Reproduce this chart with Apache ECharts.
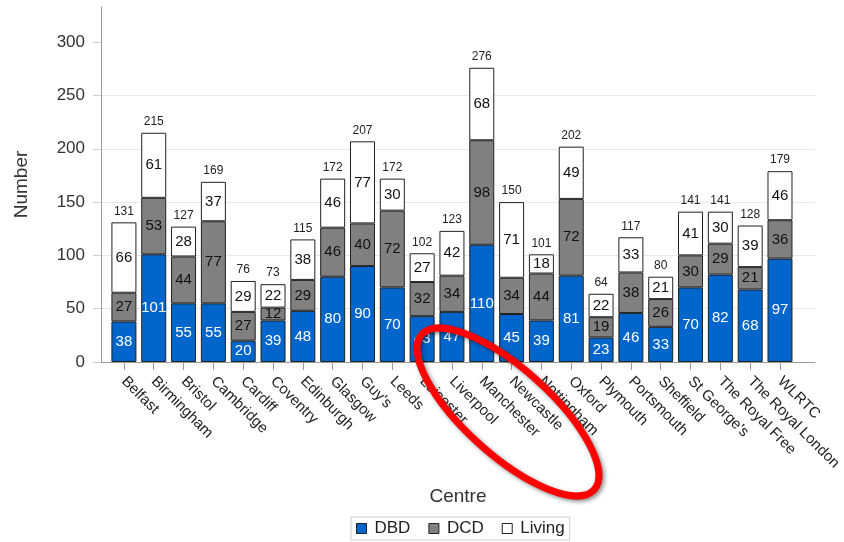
<!DOCTYPE html>
<html>
<head>
<meta charset="utf-8">
<script src="https://cdn.jsdelivr.net/npm/echarts@6/dist/echarts.min.js"></script>
<style>html,body{margin:0;padding:0;background:#fff}#c{width:844px;height:542px}</style>
</head>
<body>
<div id="c"></div>
<script>
const categories = ['Belfast','Birmingham','Bristol','Cambridge','Cardiff','Coventry','Edinburgh','Glasgow',"Guy's",'Leeds','Leicester','Liverpool','Manchester','Newcastle','Nottingham','Oxford','Plymouth','Portsmouth','Sheffield',"St George's",'The Royal Free','The Royal London','WLRTC'];
const dbd    = [38,101,55,55,20,39,48,80,90,70,43,47,110,45,39,81,23,46,33,70,82,68,97];
const dcd    = [27,53,44,77,27,12,29,46,40,72,32,34,98,34,44,72,19,38,26,30,29,21,36];
const living = [66,61,28,37,29,22,38,46,77,30,27,42,68,71,18,49,22,33,21,41,30,39,46];
const totals = [131,215,127,169,76,73,115,172,207,172,102,123,276,150,101,202,64,117,80,141,141,128,179];
const yTicks = [0,50,100,150,200,250,300];
const seriesNames = ['DBD','DCD','Living'];

const chart = echarts.init(document.getElementById('c'), null, {renderer:'canvas'});
const FONT = "'Liberation Sans', Arial, sans-serif";
const border = {borderColor:'#222', borderWidth:1};
const gridTop = 7, gridBottom = 180, yMax = 333;

chart.setOption({
  animation:false,
  textStyle:{fontFamily:FONT},
  grid:[
    {left:101, right:29, top:gridTop, bottom:gridBottom},
    {left:109, right:35, top:gridTop, bottom:gridBottom}
  ],
  xAxis:[
    {gridIndex:0, type:'value', min:0, max:1, splitLine:{show:false}, axisTick:{show:false}, axisLabel:{show:false},
     axisLine:{show:true, lineStyle:{color:'#9a9a9a'}},
     name:'Centre', nameLocation:'middle', nameGap:125, nameTextStyle:{fontSize:19, color:'#333', fontFamily:FONT}},
    {gridIndex:1, type:'category', data:categories, axisLine:{show:false},
     axisTick:{show:true, alignWithLabel:true, length:8, lineStyle:{color:'#9a9a9a'}},
     axisLabel:{rotate:-45, fontSize:15, color:'#222', margin:17, interval:0, fontFamily:FONT}}
  ],
  yAxis:[
    {gridIndex:0, type:'value', min:0, max:yMax, interval:50,
     axisLine:{show:true, lineStyle:{color:'#9a9a9a'}},
     axisTick:{show:true, length:8, customValues:yTicks, lineStyle:{color:'#cfcfcf'}},
     axisLabel:{customValues:yTicks, fontSize:17, color:'#333', margin:16, fontFamily:FONT},
     splitLine:{show:true, showMaxLine:false, lineStyle:{color:'#e8e8e8'}},
     name:'Number', nameLocation:'middle', nameGap:70, nameTextStyle:{fontSize:19, color:'#333', fontFamily:FONT}},
    {gridIndex:1, type:'value', min:0, max:yMax, show:false}
  ],
  legend:{
    data:seriesNames, bottom:2, left:351,
    itemWidth:10, itemHeight:10, itemGap:18, icon:'rect',
    borderColor:'#cccccc', borderWidth:1, padding:[3,5],
    itemStyle:{borderColor:'#222', borderWidth:1},
    textStyle:{fontSize:17, color:'#222', fontFamily:FONT, padding:[0,0,0,3]}
  },
  series:[
    {name:'DBD', type:'bar', stack:'s', xAxisIndex:1, yAxisIndex:1, barWidth:25, data:dbd,
     itemStyle:Object.assign({color:'#0066CC'}, border),
     label:{show:true, position:'inside', color:'#ffffff', fontSize:15, fontFamily:FONT}},
    {name:'DCD', type:'bar', stack:'s', xAxisIndex:1, yAxisIndex:1, barWidth:25, data:dcd,
     itemStyle:Object.assign({color:'#808080'}, border),
     label:{show:true, position:'inside', color:'#111', fontSize:15, fontFamily:FONT}},
    {name:'Living', type:'bar', stack:'s', xAxisIndex:1, yAxisIndex:1, barWidth:25, data:living,
     itemStyle:Object.assign({color:'#ffffff'}, border),
     label:{show:true, position:'inside', color:'#111', fontSize:15, fontFamily:FONT}},
    {name:'Total', type:'bar', stack:'s', xAxisIndex:1, yAxisIndex:1, barWidth:25,
     data:totals.map(function(){return 0;}),
     itemStyle:{color:'rgba(0,0,0,0)', borderWidth:0},
     label:{show:true, position:'top', distance:5, color:'#222', fontSize:12, fontFamily:FONT,
       formatter:function(p){return String(totals[p.dataIndex]);}}}
  ],
  graphic:[
    {type:'ellipse', x:508, y:412, rotation:-0.733, z:100,
     shape:{cx:0, cy:0, rx:116, ry:43},
     style:{fill:'none', stroke:'#ff0000', lineWidth:7, shadowBlur:4, shadowColor:'rgba(0,0,0,0.45)', shadowOffsetX:2, shadowOffsetY:2}}
  ]
});
</script>
</body>
</html>
